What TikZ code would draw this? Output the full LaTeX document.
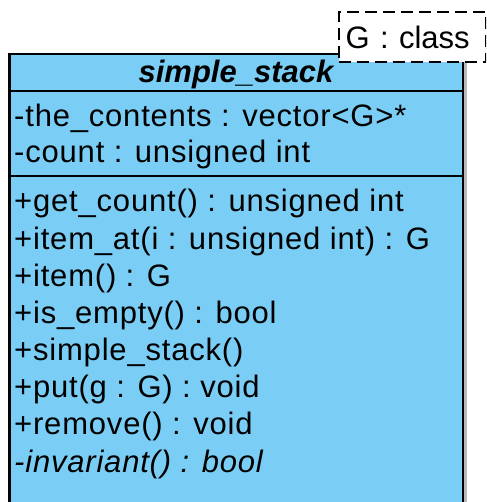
\documentclass[tikz,border=0pt]{standalone}
\usepackage{fontspec}
\setmainfont{Liberation Sans}[LetterSpace=2.6]
\newfontfamily\namefont{Liberation Sans}
\usetikzlibrary{positioning}
\definecolor{classfill}{HTML}{7ACEF5}
\definecolor{shade}{HTML}{B9B9B9}
\tikzset{
  umlfont/.style={font=\fontsize{31}{37}\selectfont},
  plainfont/.style={font=\namefont\fontsize{31}{37}\selectfont},
  %
  classbox/.style={draw=black, line width=2.4pt, fill=classfill},
  sep/.style={draw=black, line width=2.4pt},
  shadow/.style={fill=shade},
  %
  classname/.style={font=\namefont\fontsize{31}{37}\selectfont\bfseries\itshape,
                    anchor=base, inner sep=0pt},
  member/.style={umlfont, anchor=base west, inner sep=0pt, text=black},
  abstractop/.style={member, font=\fontsize{31}{37}\selectfont\itshape},
  %
  tparam/.style={plainfont, draw=black, line width=2.4pt, dash pattern=on 12pt off 6pt,
                 fill=white, anchor=north west, minimum width=147pt,
                 minimum height=50pt, inner xsep=7pt, text width=133pt, align=left},
}

\begin{document}
\begin{tikzpicture}[x=1pt, y=-1pt]
  \useasboundingbox (0,0) rectangle (486,502);
  \clip (0,0) rectangle (486,502);

  % ---- class box --------------------------------------------------------
  \fill[shadow] (13,58) rectangle (466.5,530);
  \draw[classbox] (9.5,54) rectangle (463,530);
  \draw[sep] (9.5,91) -- (463,91);
  \draw[sep] (9.5,176) -- (463,176);

  % ---- name -------------------------------------------------------------
  \node[classname] (name) at (236,83) {simple\_stack};

  % ---- attributes -------------------------------------------------------
  \node[member] (attr1) at (14,127) {-the\_contents : vector<G>*};
  \node[member] (attr2) at (14,163) {-count : unsigned int};

  % ---- operations -------------------------------------------------------
  \foreach \t [count=\i] in {
      +get\_count() : unsigned int,
      +item\_at(i : unsigned int) : G,
      +item() : G,
      +is\_empty() : bool,
      +simple\_stack(),
      +put(g : G) : void,
      +remove() : void} {
    \node[member] (op\i) at (14,{212+37.1*(\i-1)}) {\t};
  }
  \node[abstractop] (op8) at (14,472) {-invariant() : bool};

  % ---- template parameter -----------------------------------------------
  \node[tparam] (tpar) at (337.5,11) {G : class};

\end{tikzpicture}
\end{document}
